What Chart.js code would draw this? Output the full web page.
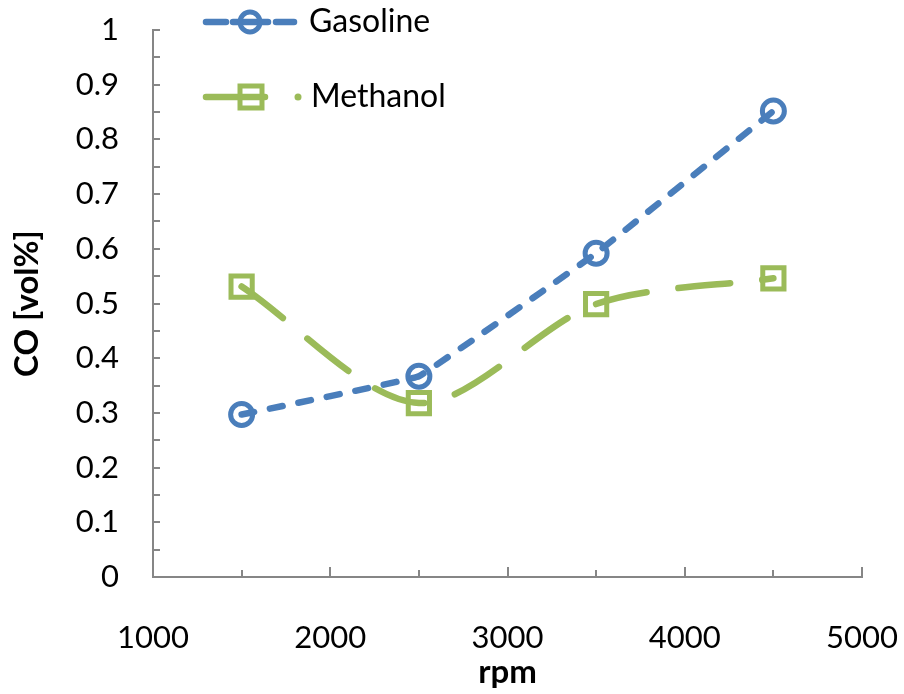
<!DOCTYPE html>
<html><head><meta charset="utf-8">
<script src="https://cdn.jsdelivr.net/npm/chart.js@4.4.1/dist/chart.umd.min.js"></script>
<style>html,body{margin:0;padding:0;background:#fff}#wrap{width:904px;height:694px}</style>
</head><body><div id="wrap"><canvas id="c" width="904" height="694"></canvas></div>
<script>
const rpm = [1500, 2500, 3500, 4500];
const gasoline = [0.297, 0.367, 0.592, 0.852];
const methanol = [0.531, 0.318, 0.499, 0.546];
const seriesNames = ['Gasoline', 'Methanol'];
const xTitle = 'rpm';
const yTitle = 'CO [vol%]';

const BLUE = '#4A7EBB', GREEN = '#9BBB59', AXIS = '#868686';
const FONT = 'Lato, "Open Sans", sans-serif';

const tickPlugin = {
  id: 'inTicks',
  afterDraw(chart) {
    const ctx = chart.ctx, xs = chart.scales.x, ys = chart.scales.y;
    const a = chart.chartArea;
    ctx.save();
    ctx.strokeStyle = AXIS; ctx.lineWidth = 2;
    for (let v = 0; v <= 1.0001; v += 0.05) {
      const y = Math.round(ys.getPixelForValue(v));
      ctx.beginPath(); ctx.moveTo(a.left, y); ctx.lineTo(a.left + 7, y); ctx.stroke();
    }
    for (let v = 1000; v <= 5000; v += 500) {
      const x = Math.round(xs.getPixelForValue(v));
      const len = (v % 1000 === 0) ? 10 : 7;
      ctx.beginPath(); ctx.moveTo(x, a.bottom); ctx.lineTo(x, a.bottom - len); ctx.stroke();
    }
    // legend
    const items = [
      {ds: chart.data.datasets[0], y: 22, dot: false},
      {ds: chart.data.datasets[1], y: 97, dot: true}
    ];
    items.forEach(it => {
      const ds = it.ds;
      ctx.strokeStyle = ds.borderColor; ctx.lineWidth = 6.5; ctx.lineCap = 'round';
      if (!it.dot) {
        [[206, 226], [276, 294]].forEach(s => { ctx.beginPath(); ctx.moveTo(s[0], it.y); ctx.lineTo(s[1], it.y); ctx.stroke(); });
        ctx.beginPath(); ctx.moveTo(233, it.y); ctx.lineTo(268, it.y); ctx.stroke();
      } else {
        ctx.beginPath(); ctx.moveTo(206, it.y); ctx.lineTo(265, it.y); ctx.stroke();
        ctx.beginPath(); ctx.arc(298, it.y, 3.5, 0, Math.PI * 2); ctx.fillStyle = ds.borderColor; ctx.fill();
      }
      ctx.lineWidth = 5;
      if (ds.pointStyle === 'circle') {
        ctx.beginPath(); ctx.arc(250, it.y, 10, 0, Math.PI * 2); ctx.stroke();
      } else {
        ctx.strokeRect(240, it.y - 11, 22, 22);
      }
      ctx.fillStyle = '#000'; ctx.font = '32px ' + FONT; ctx.textBaseline = 'middle'; ctx.textAlign = 'left';
      ctx.fillText(ds.label, it.dot ? 311 : 309, it.y);
    });
    ctx.restore();
  }
};

new Chart(document.getElementById('c'), {
  type: 'line',
  data: {
    datasets: [
      {
        label: seriesNames[0],
        data: rpm.map((x, i) => ({x, y: gasoline[i]})),
        borderColor: BLUE, backgroundColor: 'transparent',
        borderWidth: 6.5, borderDash: [13, 16], borderCapStyle: 'round',
        tension: 0.05,
        pointStyle: 'circle', pointRadius: 11, pointBorderWidth: 5,
        pointBorderColor: BLUE, pointBackgroundColor: 'rgba(255,255,255,0)'
      },
      {
        label: seriesNames[1],
        data: rpm.map((x, i) => ({x, y: methanol[i]})),
        borderColor: GREEN, backgroundColor: 'transparent',
        borderWidth: 6.5, borderDash: [52, 32], borderCapStyle: 'round',
        tension: 0.3,
        pointStyle: 'rect', pointRadius: 15, pointBorderWidth: 5,
        pointBorderColor: GREEN, pointBackgroundColor: 'rgba(255,255,255,0)'
      }
    ]
  },
  options: {
    responsive: false, animation: false,
    layout: {padding: {left: 0, right: 42, top: 30, bottom: 0}},
    plugins: {legend: {display: false}, tooltip: {enabled: false}},
    scales: {
      x: {
        type: 'linear', min: 1000, max: 5000,
        ticks: {stepSize: 1000, padding: 42, color: '#000', font: {family: FONT, size: 31}, maxRotation: 0,
          callback: v => String(v)},
        grid: {display: false, drawTicks: false},
        border: {display: true, color: AXIS, width: 2},
        title: {display: true, text: xTitle, color: '#000', font: {family: FONT, size: 33, weight: 'bold'}, padding: {top: 0, bottom: 2}},
        afterFit(s) { s.height = 117; s.paddingLeft = 0; s.paddingRight = 0; }
      },
      y: {
        type: 'linear', min: 0, max: 1,
        ticks: {stepSize: 0.1, padding: 34, color: '#000', font: {family: FONT, size: 31},
          callback: v => String(Number(v.toFixed(1)))},
        grid: {display: false, drawTicks: false},
        border: {display: true, color: AXIS, width: 2},
        title: {display: true, text: yTitle, color: '#000', font: {family: FONT, size: 33, weight: 'bold'}, padding: {top: 8, bottom: 0}},
        afterFit(s) { s.width = 153; s.paddingTop = 0; s.paddingBottom = 0; }
      }
    }
  },
  plugins: [tickPlugin]
});
</script></body></html>
